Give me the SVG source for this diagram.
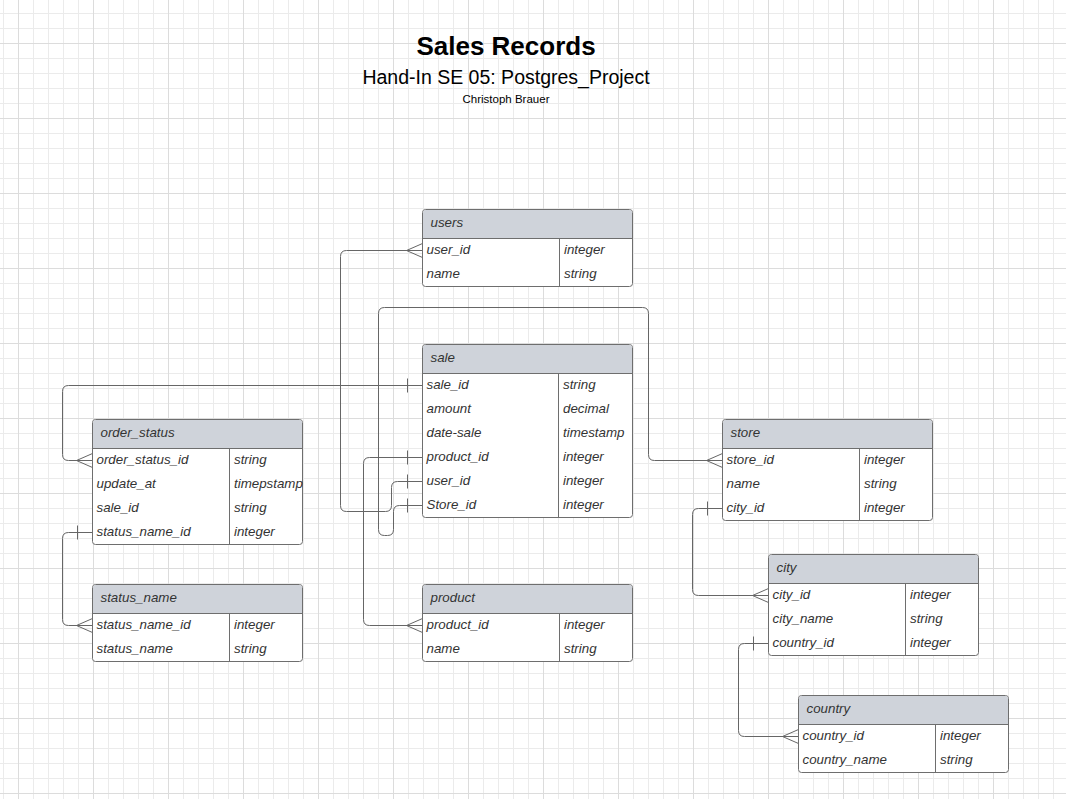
<svg xmlns="http://www.w3.org/2000/svg" width="1066" height="799" viewBox="0 0 1066 799">
<defs>
<pattern id="grid" patternUnits="userSpaceOnUse" x="18" y="43" width="75" height="75">
<rect x="15" y="0" width="1" height="75" fill="#ebebeb"/>
<rect x="30" y="0" width="1" height="75" fill="#ebebeb"/>
<rect x="45" y="0" width="1" height="75" fill="#ebebeb"/>
<rect x="60" y="0" width="1" height="75" fill="#ebebeb"/>
<rect x="0" y="15" width="75" height="1" fill="#ebebeb"/>
<rect x="0" y="30" width="75" height="1" fill="#ebebeb"/>
<rect x="0" y="45" width="75" height="1" fill="#ebebeb"/>
<rect x="0" y="60" width="75" height="1" fill="#ebebeb"/>
<rect x="0" y="0" width="1" height="75" fill="#dcdcdc"/>
<rect x="0" y="0" width="75" height="1" fill="#dcdcdc"/>
</pattern>
</defs>
<style>
.tbl{fill:#ffffff;stroke:#6e6e6e;stroke-width:1}
.hdr{fill:#cfd3da;stroke:none}
.ln{stroke:#6e6e6e;stroke-width:1;fill:none}
.t{font-family:"Liberation Sans",Arial,sans-serif;font-size:13.33px;font-style:italic;fill:#333333}
.c{stroke:#666666;stroke-width:1;fill:none}
.title{font-family:"Liberation Sans",Arial,sans-serif;text-anchor:middle;fill:#000000}
</style>
<rect x="0" y="0" width="1066" height="799" fill="#ffffff"/>
<rect x="0" y="0" width="1066" height="799" fill="url(#grid)"/>

<g id="title">
<text class="title" x="506" y="55" font-size="26" font-weight="bold">Sales Records</text>
<text class="title" x="506" y="84" font-size="19.5">Hand-In SE 05: Postgres_Project</text>
<text class="title" x="506" y="103" font-size="11.5">Christoph Brauer</text>
</g>

<g id="connectors">
<path class="c" d="M422.5,481.5 H397.5 Q391.5,481.5 391.5,487.5 V505.5 Q391.5,511.5 385.5,511.5 H346.5 Q340.5,511.5 340.5,505.5 V256.5 Q340.5,250.5 346.5,250.5 H422.5"/>
<path class="c" d="M422.5,505.5 H399.5 Q393.5,505.5 393.5,511.5 V529.5 Q393.5,535.5 387.5,535.5 H384.5 Q378.5,535.5 378.5,529.5 V313.5 Q378.5,307.5 384.5,307.5 H642.5 Q648.5,307.5 648.5,313.5 V454.5 Q648.5,460.5 654.5,460.5 H722.5"/>
<path class="c" d="M422.5,457.5 H369.5 Q363.5,457.5 363.5,463.5 V619.5 Q363.5,625.5 369.5,625.5 H422.5"/>
<path class="c" d="M422.5,385.5 H68.5 Q62.5,385.5 62.5,391.5 V454.5 Q62.5,460.5 68.5,460.5 H92.5"/>
<path class="c" d="M92.5,532.5 H68.5 Q62.5,532.5 62.5,538.5 V619.5 Q62.5,625.5 68.5,625.5 H92.5"/>
<path class="c" d="M722.5,508.5 H698.5 Q692.5,508.5 692.5,514.5 V589.5 Q692.5,595.5 698.5,595.5 H768.5"/>
<path class="c" d="M768.5,643.5 H744.5 Q738.5,643.5 738.5,649.5 V730.5 Q738.5,736.5 744.5,736.5 H798.5"/>
<path class="c" d="M422.5,243.5 L406.5,250.5 L422.5,257.5"/>
<path class="c" d="M92.5,453.5 L76.5,460.5 L92.5,467.5"/>
<path class="c" d="M722.5,453.5 L706.5,460.5 L722.5,467.5"/>
<path class="c" d="M422.5,618.5 L406.5,625.5 L422.5,632.5"/>
<path class="c" d="M92.5,618.5 L76.5,625.5 L92.5,632.5"/>
<path class="c" d="M768.5,588.5 L752.5,595.5 L768.5,602.5"/>
<path class="c" d="M798.5,729.5 L782.5,736.5 L798.5,743.5"/>
<path class="c" d="M407.5,378.5 V392.5 M407.5,450.5 V464.5 M407.5,474.5 V488.5 M407.5,498.5 V512.5"/>
<path class="c" d="M77.5,525.5 V539.5"/>
<path class="c" d="M707.5,501.5 V515.5"/>
<path class="c" d="M753.5,636.5 V650.5"/>
</g>

<g id="users">
<rect class="tbl" x="422.5" y="209.5" width="210" height="77" rx="3"/>
<path class="hdr" d="M423,238 V212.5 Q423,210 425.5,210 H629.5 Q632,210 632,212.5 V238 Z"/>
<path class="ln" d="M422.5,238.5 H632.5 M559.5,238.5 V286.5"/>
<text class="t" x="430.5" y="226.5">users</text>
<text class="t" x="426.5" y="253.5">user_id</text><text class="t" x="564" y="253.5">integer</text>
<text class="t" x="426.5" y="277.5">name</text><text class="t" x="564" y="277.5">string</text>
</g>

<g id="sale">
<rect class="tbl" x="422.5" y="344.5" width="210" height="173" rx="3"/>
<path class="hdr" d="M423,373 V347.5 Q423,345 425.5,345 H629.5 Q632,345 632,347.5 V373 Z"/>
<path class="ln" d="M422.5,373.5 H632.5 M558.5,373.5 V517.5"/>
<text class="t" x="430.5" y="361.5">sale</text>
<text class="t" x="426.5" y="388.5">sale_id</text><text class="t" x="563" y="388.5">string</text>
<text class="t" x="426.5" y="412.5">amount</text><text class="t" x="563" y="412.5">decimal</text>
<text class="t" x="426.5" y="436.5">date-sale</text><text class="t" x="563" y="436.5">timestamp</text>
<text class="t" x="426.5" y="460.5">product_id</text><text class="t" x="563" y="460.5">integer</text>
<text class="t" x="426.5" y="484.5">user_id</text><text class="t" x="563" y="484.5">integer</text>
<text class="t" x="426.5" y="508.5">Store_id</text><text class="t" x="563" y="508.5">integer</text>
</g>

<g id="order_status">
<rect class="tbl" x="92.5" y="419.5" width="210" height="125" rx="3"/>
<path class="hdr" d="M93,448 V422.5 Q93,420 95.5,420 H299.5 Q302,420 302,422.5 V448 Z"/>
<path class="ln" d="M92.5,448.5 H302.5 M229.5,448.5 V544.5"/>
<text class="t" x="100.5" y="436.5">order_status</text>
<text class="t" x="96.5" y="463.5">order_status_id</text><text class="t" x="234" y="463.5">string</text>
<text class="t" x="96.5" y="487.5">update_at</text><text class="t" x="234" y="487.5">timepstamp</text>
<text class="t" x="96.5" y="511.5">sale_id</text><text class="t" x="234" y="511.5">string</text>
<text class="t" x="96.5" y="535.5">status_name_id</text><text class="t" x="234" y="535.5">integer</text>
</g>

<g id="status_name">
<rect class="tbl" x="92.5" y="584.5" width="210" height="77" rx="3"/>
<path class="hdr" d="M93,613 V587.5 Q93,585 95.5,585 H299.5 Q302,585 302,587.5 V613 Z"/>
<path class="ln" d="M92.5,613.5 H302.5 M229.5,613.5 V661.5"/>
<text class="t" x="100.5" y="601.5">status_name</text>
<text class="t" x="96.5" y="628.5">status_name_id</text><text class="t" x="234" y="628.5">integer</text>
<text class="t" x="96.5" y="652.5">status_name</text><text class="t" x="234" y="652.5">string</text>
</g>

<g id="product">
<rect class="tbl" x="422.5" y="584.5" width="210" height="77" rx="3"/>
<path class="hdr" d="M423,613 V587.5 Q423,585 425.5,585 H629.5 Q632,585 632,587.5 V613 Z"/>
<path class="ln" d="M422.5,613.5 H632.5 M559.5,613.5 V661.5"/>
<text class="t" x="430.5" y="601.5">product</text>
<text class="t" x="426.5" y="628.5">product_id</text><text class="t" x="564" y="628.5">integer</text>
<text class="t" x="426.5" y="652.5">name</text><text class="t" x="564" y="652.5">string</text>
</g>

<g id="store">
<rect class="tbl" x="722.5" y="419.5" width="210" height="101" rx="3"/>
<path class="hdr" d="M723,448 V422.5 Q723,420 725.5,420 H929.5 Q932,420 932,422.5 V448 Z"/>
<path class="ln" d="M722.5,448.5 H932.5 M859.5,448.5 V520.5"/>
<text class="t" x="730.5" y="436.5">store</text>
<text class="t" x="726.5" y="463.5">store_id</text><text class="t" x="864" y="463.5">integer</text>
<text class="t" x="726.5" y="487.5">name</text><text class="t" x="864" y="487.5">string</text>
<text class="t" x="726.5" y="511.5">city_id</text><text class="t" x="864" y="511.5">integer</text>
</g>

<g id="city">
<rect class="tbl" x="768.5" y="554.5" width="210" height="101" rx="3"/>
<path class="hdr" d="M769,583 V557.5 Q769,555 771.5,555 H975.5 Q978,555 978,557.5 V583 Z"/>
<path class="ln" d="M768.5,583.5 H978.5 M905.5,583.5 V655.5"/>
<text class="t" x="776.5" y="571.5">city</text>
<text class="t" x="772.5" y="598.5">city_id</text><text class="t" x="910" y="598.5">integer</text>
<text class="t" x="772.5" y="622.5">city_name</text><text class="t" x="910" y="622.5">string</text>
<text class="t" x="772.5" y="646.5">country_id</text><text class="t" x="910" y="646.5">integer</text>
</g>

<g id="country">
<rect class="tbl" x="798.5" y="695.5" width="210" height="77" rx="3"/>
<path class="hdr" d="M799,724 V698.5 Q799,696 801.5,696 H1005.5 Q1008,696 1008,698.5 V724 Z"/>
<path class="ln" d="M798.5,724.5 H1008.5 M935.5,724.5 V772.5"/>
<text class="t" x="806.5" y="712.5">country</text>
<text class="t" x="802.5" y="739.5">country_id</text><text class="t" x="940" y="739.5">integer</text>
<text class="t" x="802.5" y="763.5">country_name</text><text class="t" x="940" y="763.5">string</text>
</g>
</svg>
